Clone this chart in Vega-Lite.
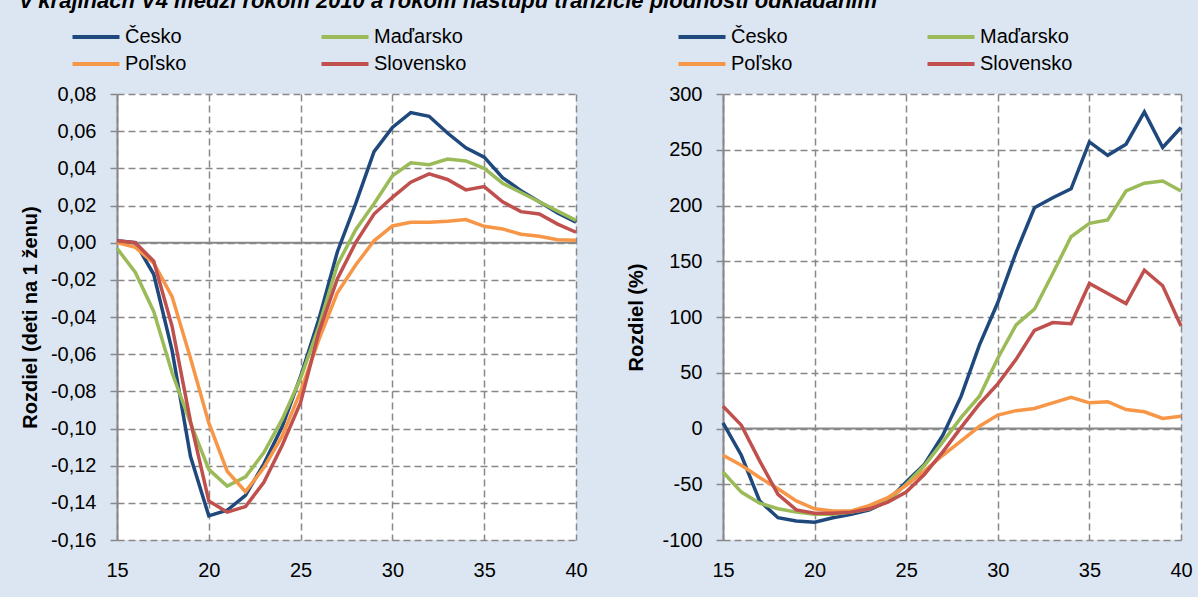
{
  "$schema": "https://vega.github.io/schema/vega-lite/v6.json",
  "background": "#dce6f2",
  "padding": {"left": 20, "right": 5, "top": -10, "bottom": 17},
  "title": {
    "text": "v krajinách V4 medzi rokom 2010 a rokom nástupu tranzície plodnosti odkladaním",
    "anchor": "start",
    "fontSize": 22,
    "fontStyle": "italic",
    "fontWeight": "bold",
    "font": "Liberation Sans",
    "color": "black",
    "offset": 12
  },
  "datasets": {
    "zero": [{"zero": 0}],
    "abs": [
      {"age":15,"country":"Česko","value":0.001},{"age":16,"country":"Česko","value":0.000},{"age":17,"country":"Česko","value":-0.017},{"age":18,"country":"Česko","value":-0.058},{"age":19,"country":"Česko","value":-0.115},{"age":20,"country":"Česko","value":-0.147},{"age":21,"country":"Česko","value":-0.144},{"age":22,"country":"Česko","value":-0.136},{"age":23,"country":"Česko","value":-0.119},{"age":24,"country":"Česko","value":-0.099},{"age":25,"country":"Česko","value":-0.072},{"age":26,"country":"Česko","value":-0.041},{"age":27,"country":"Česko","value":-0.005},{"age":28,"country":"Česko","value":0.021},{"age":29,"country":"Česko","value":0.049},{"age":30,"country":"Česko","value":0.062},{"age":31,"country":"Česko","value":0.070},{"age":32,"country":"Česko","value":0.068},{"age":33,"country":"Česko","value":0.059},{"age":34,"country":"Česko","value":0.051},{"age":35,"country":"Česko","value":0.046},{"age":36,"country":"Česko","value":0.035},{"age":37,"country":"Česko","value":0.028},{"age":38,"country":"Česko","value":0.022},{"age":39,"country":"Česko","value":0.016},{"age":40,"country":"Česko","value":0.011},
      {"age":15,"country":"Maďarsko","value":-0.003},{"age":16,"country":"Maďarsko","value":-0.016},{"age":17,"country":"Maďarsko","value":-0.037},{"age":18,"country":"Maďarsko","value":-0.070},{"age":19,"country":"Maďarsko","value":-0.097},{"age":20,"country":"Maďarsko","value":-0.122},{"age":21,"country":"Maďarsko","value":-0.131},{"age":22,"country":"Maďarsko","value":-0.126},{"age":23,"country":"Maďarsko","value":-0.113},{"age":24,"country":"Maďarsko","value":-0.095},{"age":25,"country":"Maďarsko","value":-0.073},{"age":26,"country":"Maďarsko","value":-0.045},{"age":27,"country":"Maďarsko","value":-0.012},{"age":28,"country":"Maďarsko","value":0.007},{"age":29,"country":"Maďarsko","value":0.021},{"age":30,"country":"Maďarsko","value":0.036},{"age":31,"country":"Maďarsko","value":0.043},{"age":32,"country":"Maďarsko","value":0.042},{"age":33,"country":"Maďarsko","value":0.045},{"age":34,"country":"Maďarsko","value":0.044},{"age":35,"country":"Maďarsko","value":0.040},{"age":36,"country":"Maďarsko","value":0.032},{"age":37,"country":"Maďarsko","value":0.027},{"age":38,"country":"Maďarsko","value":0.022},{"age":39,"country":"Maďarsko","value":0.017},{"age":40,"country":"Maďarsko","value":0.012},
      {"age":15,"country":"Poľsko","value":0.000},{"age":16,"country":"Poľsko","value":-0.0025},{"age":17,"country":"Poľsko","value":-0.011},{"age":18,"country":"Poľsko","value":-0.029},{"age":19,"country":"Poľsko","value":-0.062},{"age":20,"country":"Poľsko","value":-0.097},{"age":21,"country":"Poľsko","value":-0.123},{"age":22,"country":"Poľsko","value":-0.134},{"age":23,"country":"Poľsko","value":-0.121},{"age":24,"country":"Poľsko","value":-0.104},{"age":25,"country":"Poľsko","value":-0.080},{"age":26,"country":"Poľsko","value":-0.052},{"age":27,"country":"Poľsko","value":-0.027},{"age":28,"country":"Poľsko","value":-0.012},{"age":29,"country":"Poľsko","value":0.001},{"age":30,"country":"Poľsko","value":0.009},{"age":31,"country":"Poľsko","value":0.011},{"age":32,"country":"Poľsko","value":0.011},{"age":33,"country":"Poľsko","value":0.0115},{"age":34,"country":"Poľsko","value":0.0124},{"age":35,"country":"Poľsko","value":0.0088},{"age":36,"country":"Poľsko","value":0.0074},{"age":37,"country":"Poľsko","value":0.0045},{"age":38,"country":"Poľsko","value":0.0034},{"age":39,"country":"Poľsko","value":0.0016},{"age":40,"country":"Poľsko","value":0.0013},
      {"age":15,"country":"Slovensko","value":0.001},{"age":16,"country":"Slovensko","value":0.000},{"age":17,"country":"Slovensko","value":-0.010},{"age":18,"country":"Slovensko","value":-0.045},{"age":19,"country":"Slovensko","value":-0.096},{"age":20,"country":"Slovensko","value":-0.139},{"age":21,"country":"Slovensko","value":-0.145},{"age":22,"country":"Slovensko","value":-0.142},{"age":23,"country":"Slovensko","value":-0.129},{"age":24,"country":"Slovensko","value":-0.109},{"age":25,"country":"Slovensko","value":-0.086},{"age":26,"country":"Slovensko","value":-0.048},{"age":27,"country":"Slovensko","value":-0.0195},{"age":28,"country":"Slovensko","value":0.000},{"age":29,"country":"Slovensko","value":0.0154},{"age":30,"country":"Slovensko","value":0.0244},{"age":31,"country":"Slovensko","value":0.0325},{"age":32,"country":"Slovensko","value":0.037},{"age":33,"country":"Slovensko","value":0.034},{"age":34,"country":"Slovensko","value":0.0284},{"age":35,"country":"Slovensko","value":0.0302},{"age":36,"country":"Slovensko","value":0.022},{"age":37,"country":"Slovensko","value":0.0167},{"age":38,"country":"Slovensko","value":0.0154},{"age":39,"country":"Slovensko","value":0.010},{"age":40,"country":"Slovensko","value":0.0056}
    ],
    "pct": [
      {"age":15,"country":"Česko","value":5},{"age":16,"country":"Česko","value":-24},{"age":17,"country":"Česko","value":-65},{"age":18,"country":"Česko","value":-80},{"age":19,"country":"Česko","value":-83},{"age":20,"country":"Česko","value":-84},{"age":21,"country":"Česko","value":-80},{"age":22,"country":"Česko","value":-77},{"age":23,"country":"Česko","value":-73},{"age":24,"country":"Česko","value":-65},{"age":25,"country":"Česko","value":-48},{"age":26,"country":"Česko","value":-32},{"age":27,"country":"Česko","value":-6},{"age":28,"country":"Česko","value":29},{"age":29,"country":"Česko","value":75},{"age":30,"country":"Česko","value":113},{"age":31,"country":"Česko","value":158},{"age":32,"country":"Česko","value":198},{"age":33,"country":"Česko","value":207},{"age":34,"country":"Česko","value":215},{"age":35,"country":"Česko","value":257},{"age":36,"country":"Česko","value":245},{"age":37,"country":"Česko","value":255},{"age":38,"country":"Česko","value":284},{"age":39,"country":"Česko","value":252},{"age":40,"country":"Česko","value":270},
      {"age":15,"country":"Maďarsko","value":-39},{"age":16,"country":"Maďarsko","value":-57},{"age":17,"country":"Maďarsko","value":-67},{"age":18,"country":"Maďarsko","value":-72},{"age":19,"country":"Maďarsko","value":-75},{"age":20,"country":"Maďarsko","value":-77},{"age":21,"country":"Maďarsko","value":-77},{"age":22,"country":"Maďarsko","value":-75},{"age":23,"country":"Maďarsko","value":-72},{"age":24,"country":"Maďarsko","value":-65},{"age":25,"country":"Maďarsko","value":-50},{"age":26,"country":"Maďarsko","value":-33},{"age":27,"country":"Maďarsko","value":-12},{"age":28,"country":"Maďarsko","value":10},{"age":29,"country":"Maďarsko","value":29},{"age":30,"country":"Maďarsko","value":63},{"age":31,"country":"Maďarsko","value":93},{"age":32,"country":"Maďarsko","value":107},{"age":33,"country":"Maďarsko","value":139},{"age":34,"country":"Maďarsko","value":172},{"age":35,"country":"Maďarsko","value":184},{"age":36,"country":"Maďarsko","value":187},{"age":37,"country":"Maďarsko","value":213},{"age":38,"country":"Maďarsko","value":220},{"age":39,"country":"Maďarsko","value":222},{"age":40,"country":"Maďarsko","value":213},
      {"age":15,"country":"Poľsko","value":-24},{"age":16,"country":"Poľsko","value":-33},{"age":17,"country":"Poľsko","value":-44},{"age":18,"country":"Poľsko","value":-54},{"age":19,"country":"Poľsko","value":-65},{"age":20,"country":"Poľsko","value":-72},{"age":21,"country":"Poľsko","value":-74},{"age":22,"country":"Poľsko","value":-74},{"age":23,"country":"Poľsko","value":-69},{"age":24,"country":"Poľsko","value":-62},{"age":25,"country":"Poľsko","value":-51},{"age":26,"country":"Poľsko","value":-38},{"age":27,"country":"Poľsko","value":-24},{"age":28,"country":"Poľsko","value":-11},{"age":29,"country":"Poľsko","value":2},{"age":30,"country":"Poľsko","value":12},{"age":31,"country":"Poľsko","value":16},{"age":32,"country":"Poľsko","value":18},{"age":33,"country":"Poľsko","value":23},{"age":34,"country":"Poľsko","value":28},{"age":35,"country":"Poľsko","value":23},{"age":36,"country":"Poľsko","value":24},{"age":37,"country":"Poľsko","value":17},{"age":38,"country":"Poľsko","value":15},{"age":39,"country":"Poľsko","value":9},{"age":40,"country":"Poľsko","value":11},
      {"age":15,"country":"Slovensko","value":20},{"age":16,"country":"Slovensko","value":3},{"age":17,"country":"Slovensko","value":-29},{"age":18,"country":"Slovensko","value":-59},{"age":19,"country":"Slovensko","value":-73},{"age":20,"country":"Slovensko","value":-76},{"age":21,"country":"Slovensko","value":-76},{"age":22,"country":"Slovensko","value":-75},{"age":23,"country":"Slovensko","value":-72},{"age":24,"country":"Slovensko","value":-66},{"age":25,"country":"Slovensko","value":-57},{"age":26,"country":"Slovensko","value":-41},{"age":27,"country":"Slovensko","value":-21},{"age":28,"country":"Slovensko","value":1},{"age":29,"country":"Slovensko","value":22},{"age":30,"country":"Slovensko","value":40},{"age":31,"country":"Slovensko","value":62},{"age":32,"country":"Slovensko","value":88},{"age":33,"country":"Slovensko","value":95},{"age":34,"country":"Slovensko","value":94},{"age":35,"country":"Slovensko","value":130},{"age":36,"country":"Slovensko","value":121},{"age":37,"country":"Slovensko","value":112},{"age":38,"country":"Slovensko","value":142},{"age":39,"country":"Slovensko","value":128},{"age":40,"country":"Slovensko","value":92}
    ]
  },
  "spacing": 38,
  "resolve": {"legend": {"color": "independent"}},
  "hconcat": [
    {
      "width": 459,
      "height": 446,
      "layer": [
        {
          "data": {"name": "zero"},
          "mark": {"type": "rule", "color": "#888888", "strokeWidth": 2},
          "encoding": {
            "y": {"field": "zero", "type": "quantitative", "scale": {"domain": [-0.16, 0.08], "nice": false, "zero": false},
              "axis": {"title": "Rozdiel (deti na 1 ženu)", "values": [-0.16,-0.14,-0.12,-0.1,-0.08,-0.06,-0.04,-0.02,0,0.02,0.04,0.06,0.08], "labelExpr": "(datum.value < -0.0001 ? '-' : '') + replace(format(abs(datum.value), '.2f'), '.', ',')"}}
          }
        },
        {
          "data": {"name": "abs"},
          "mark": {"type": "line", "strokeWidth": 3.5},
          "encoding": {
            "x": {"field": "age", "type": "quantitative", "scale": {"domain": [15, 40], "nice": false, "zero": false},
              "axis": {"values": [15, 20, 25, 30, 35, 40], "title": null}},
            "y": {"field": "value", "type": "quantitative", "scale": {"domain": [-0.16, 0.08], "nice": false, "zero": false},
              "axis": {"title": "Rozdiel (deti na 1 ženu)", "values": [-0.16,-0.14,-0.12,-0.1,-0.08,-0.06,-0.04,-0.02,0,0.02,0.04,0.06,0.08], "labelExpr": "(datum.value < -0.0001 ? '-' : '') + replace(format(abs(datum.value), '.2f'), '.', ',')"}},
            "color": {"field": "country", "type": "nominal",
              "scale": {"domain": ["Česko", "Maďarsko", "Poľsko", "Slovensko"], "range": ["#1f497d", "#9bbb59", "#f79646", "#c0504d"]},
              "legend": {"orient": "none", "legendX": -33, "legendY": -69}}
          }
        }
      ]
    },
    {
      "width": 458,
      "height": 446,
      "layer": [
        {
          "data": {"name": "zero"},
          "mark": {"type": "rule", "color": "#888888", "strokeWidth": 2},
          "encoding": {
            "y": {"field": "zero", "type": "quantitative", "scale": {"domain": [-100, 300], "nice": false, "zero": false},
              "axis": {"title": "Rozdiel (%)", "values": [-100,-50,0,50,100,150,200,250,300], "labelExpr": "(datum.value < 0 ? '-' : '') + format(abs(datum.value), 'd')"}}
          }
        },
        {
          "data": {"name": "pct"},
          "mark": {"type": "line", "strokeWidth": 3.5},
          "encoding": {
            "x": {"field": "age", "type": "quantitative", "scale": {"domain": [15, 40], "nice": false, "zero": false},
              "axis": {"values": [15, 20, 25, 30, 35, 40], "title": null}},
            "y": {"field": "value", "type": "quantitative", "scale": {"domain": [-100, 300], "nice": false, "zero": false},
              "axis": {"title": "Rozdiel (%)", "values": [-100,-50,0,50,100,150,200,250,300], "labelExpr": "(datum.value < 0 ? '-' : '') + format(abs(datum.value), 'd')"}},
            "color": {"field": "country", "type": "nominal",
              "scale": {"domain": ["Česko", "Maďarsko", "Poľsko", "Slovensko"], "range": ["#1f497d", "#9bbb59", "#f79646", "#c0504d"]},
              "legend": {"orient": "none", "legendX": -33, "legendY": -69}}
          }
        }
      ]
    }
  ],
  "config": {
    "font": "Liberation Sans",
    "view": {"fill": "white", "stroke": null},
    "axis": {
      "labelFont": "Liberation Sans", "labelFontSize": 20, "labelColor": "black",
      "titleFont": "Liberation Sans", "titleFontSize": 20, "titleFontWeight": "bold", "titleColor": "black",
      "gridColor": "#888888", "gridDash": [7, 4], "gridWidth": 1.5,
      "domainColor": "#888888", "tickColor": "#888888"
    },
    "axisX": {"grid": true, "domain": false, "ticks": false, "labelPadding": 20, "labelFlush": false, "labelOverlap": false},
    "axisY": {"grid": true, "domain": true, "domainWidth": 2, "ticks": true, "tickSize": 7, "tickWidth": 1.5, "labelPadding": 14, "minExtent": 72, "maxExtent": 72, "titlePadding": 5, "labelOverlap": false},
    "legend": {
      "title": null, "columns": 2, "direction": "horizontal", "columnPadding": 126, "rowPadding": 5,
      "symbolType": "M-2.35,0H2.35", "symbolStrokeWidth": 4, "symbolSize": 400,
      "labelFont": "Liberation Sans", "labelFontSize": 20, "labelColor": "black", "labelOffset": 17,
      "labelLimit": 300
    }
  }
}
